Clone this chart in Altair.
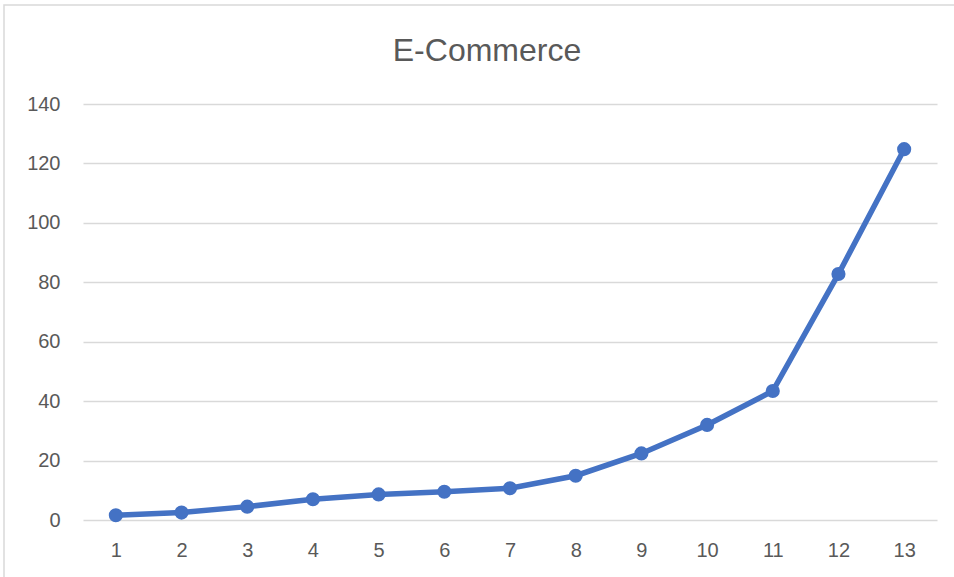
import altair as alt
import pandas as pd

categories = ["1", "2", "3", "4", "5", "6", "7", "8", "9", "10", "11", "12", "13"]
values = [1.6, 2.5, 4.5, 7.0, 8.6, 9.5, 10.7, 14.9, 22.4, 32.0, 43.4, 82.8, 124.8]
y_ticks = [0, 20, 40, 60, 80, 100, 120, 140]

df = pd.DataFrame({"cat": categories, "val": values})

FONT = "Liberation Sans"
GRAY = "#595959"
BLUE = "#4472C4"

base = alt.Chart(df)

x_enc = alt.X("cat:O", sort=categories, title=None,
              scale=alt.Scale(type="point", padding=0.5),
              axis=alt.Axis(labelAngle=0, domain=False, ticks=False, grid=False,
                            labelFontSize=20, labelColor=GRAY, labelFont=FONT,
                            labelPadding=20))
y_enc = alt.Y("val:Q", title=None,
              scale=alt.Scale(domain=[0, 140], nice=False),
              axis=alt.Axis(values=y_ticks, domain=False, ticks=False,
                            gridColor="#d9d9d9", gridWidth=1.3,
                            labelFontSize=20, labelColor=GRAY, labelFont=FONT,
                            labelPadding=23))

line = base.mark_line(color=BLUE, strokeWidth=5.5).encode(x=x_enc, y=y_enc)
points = base.mark_circle(color=BLUE, size=200, opacity=1).encode(x=x_enc, y=y_enc)

border = alt.Chart(pd.DataFrame({"a": [0]})).mark_rect(
    fill=None, stroke="#d9d9d9", strokeWidth=1.5
).encode(
    x=alt.value(-79), x2=alt.value(900),
    y=alt.value(-99), y2=alt.value(500)
)

chart = alt.layer(border, line, points).properties(
    width=854, height=416,
    background="white",
    title=alt.TitleParams("E-Commerce", fontSize=32, font=FONT, color=GRAY,
                          fontWeight="normal", anchor="middle", frame="group",
                          offset=-64, dx=-23),
    autosize=alt.AutoSizeParams(type="none"),
    padding={"left": 83, "top": 104, "right": 17, "bottom": 57},
).configure_view(strokeOpacity=0, strokeWidth=0)

chart.save("out.html", embed_options={"renderer": "svg", "actions": False})
